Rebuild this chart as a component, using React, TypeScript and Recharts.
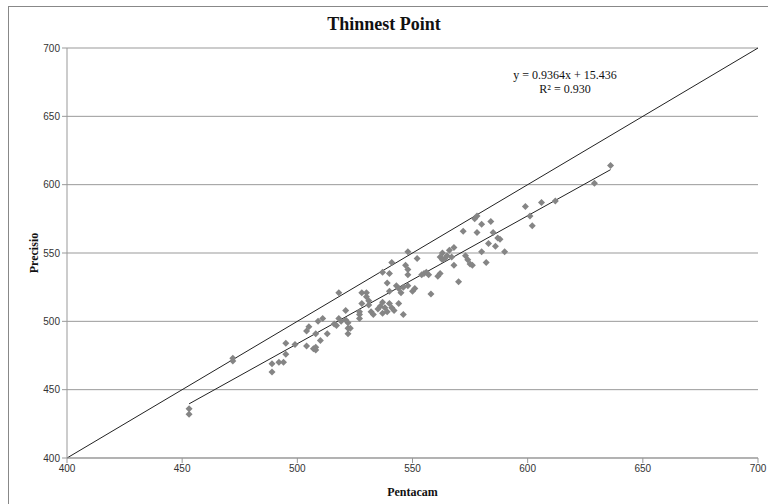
import {
  ScatterChart,
  Scatter,
  XAxis,
  YAxis,
  CartesianGrid,
  ReferenceLine,
} from 'recharts';

// Pentacam vs Precisio thinnest point readings (µm)
const PENTACAM = [
  453, 453, 472, 472,
  489, 489, 492, 494, 495, 495,
  499, 504, 504, 505, 507, 508, 508, 508, 510, 509, 511, 513,
  517, 518, 518, 521, 522, 522, 522, 523, 516, 519, 521, 527, 527, 528, 527,
  528, 530, 530, 531, 531, 532, 533, 535, 536, 537, 537, 538, 539, 540, 541, 542, 544, 546,
  537, 540, 539, 541, 540, 543, 544, 545, 546, 548, 550, 551, 547, 548, 548, 548, 552,
  554, 555, 556, 558, 557,
  562, 563, 565, 566, 567, 562, 561, 563, 564, 568, 568, 570, 573, 574, 575, 576,
  572, 577, 578, 578, 580, 580, 582, 583, 584, 585, 586, 587, 588, 590,
  599, 601, 602, 606, 612, 629, 636,
];
const PRECISIO = [
  432, 436, 471, 473,
  463, 469, 470, 470, 476, 484,
  483, 482, 493, 496, 480, 481, 479, 491, 486, 500, 502, 491,
  497, 502, 521, 508, 491, 495, 499, 495, 498, 500, 501, 505, 507, 513, 502,
  521, 521, 518, 512, 515, 507, 505, 509, 511, 506, 514, 510, 507, 513, 510, 508, 513, 505,
  536, 535, 528, 543, 522, 526, 524, 521, 525, 526, 522, 524, 541, 538, 534, 551, 546,
  534, 535, 536, 520, 534,
  547, 550, 548, 552, 547, 535, 533, 545, 546, 541, 554, 529, 548, 545, 542, 541,
  566, 575, 577, 565, 571, 551, 543, 557, 573, 565, 555, 561, 560, 551,
  584, 577, 570, 587, 588, 601, 614,
];

const X_TICKS = [400, 450, 500, 550, 600, 650, 700];
const Y_TICKS = [400, 450, 500, 550, 600, 650, 700];

// Trend line from the printed equation
const SLOPE = 0.9364;
const INTERCEPT = 15.436;
const FIT_X = [453, 636];

const points = PENTACAM.map((x, i) => ({ x, y: PRECISIO[i] }));

const tickStyle = {
  fontFamily: '"Liberation Sans Narrow", "Arial Narrow", "Liberation Sans", sans-serif',
  fontSize: 10,
  fill: '#333',
};

const serif = '"Liberation Serif", "Times New Roman", serif';

// small grey diamond like the spreadsheet marker
function Diamond(props: any) {
  const { cx, cy } = props;
  const r = 3.5;
  return (
    <polygon
      points={`${cx},${cy - r} ${cx + r},${cy} ${cx},${cy + r} ${cx - r},${cy}`}
      fill="#858585"
    />
  );
}

export default function App() {
  return (
    <div style={{ position: 'absolute', left: 0, top: 0, width: 768, height: 504, background: '#fff' }}>
      <div
        style={{
          position: 'absolute',
          left: 8,
          top: 6,
          width: 770,
          height: 510,
          border: '1px solid #888',
          boxSizing: 'border-box',
        }}
      />
      <div
        style={{
          position: 'absolute',
          left: 0,
          top: 14,
          width: 768,
          textAlign: 'center',
          fontFamily: serif,
          fontWeight: 'bold',
          fontSize: 18,
          color: '#111',
        }}
      >
        Thinnest Point
      </div>
      <div
        style={{
          position: 'absolute',
          left: 485,
          top: 68,
          width: 160,
          textAlign: 'center',
          fontFamily: serif,
          fontSize: 12,
          lineHeight: '14px',
          color: '#111',
        }}
      >
        <div>y = 0.9364x + 15.436</div>
        <div>R² = 0.930</div>
      </div>
      <ScatterChart
        width={768}
        height={504}
        margin={{ top: 48, right: 10, bottom: 16, left: 27 }}
        style={{ position: 'absolute', left: 0, top: 0 }}
      >
        <CartesianGrid vertical={false} horizontal stroke="#999" strokeWidth={1} />
        <XAxis
          type="number"
          dataKey="x"
          domain={[400, 700]}
          ticks={X_TICKS}
          allowDataOverflow
          height={30}
          stroke="#999"
          tick={tickStyle}
          tickSize={5}
          label={{
            value: 'Pentacam',
            position: 'insideBottom',
            offset: -8,
            style: { fontFamily: serif, fontWeight: 'bold', fontSize: 12, fill: '#111' },
          }}
        />
        <YAxis
          type="number"
          dataKey="y"
          domain={[400, 700]}
          ticks={Y_TICKS}
          allowDataOverflow
          width={40}
          stroke="#999"
          tick={tickStyle}
          tickSize={5}
          label={{
            value: 'Precisio',
            angle: -90,
            position: 'insideLeft',
            offset: 7,
            style: { fontFamily: serif, fontWeight: 'bold', fontSize: 12, fill: '#111', textAnchor: 'middle' },
          }}
        />
        <ReferenceLine
          segment={[
            { x: 400, y: 400 },
            { x: 700, y: 700 },
          ]}
          stroke="#222"
          strokeWidth={1}
        />
        <ReferenceLine
          segment={FIT_X.map(x => ({ x, y: SLOPE * x + INTERCEPT }))}
          stroke="#222"
          strokeWidth={1}
        />
        <Scatter data={points} shape={<Diamond />} fill="#858585" isAnimationActive={false} />
      </ScatterChart>
    </div>
  );
}
